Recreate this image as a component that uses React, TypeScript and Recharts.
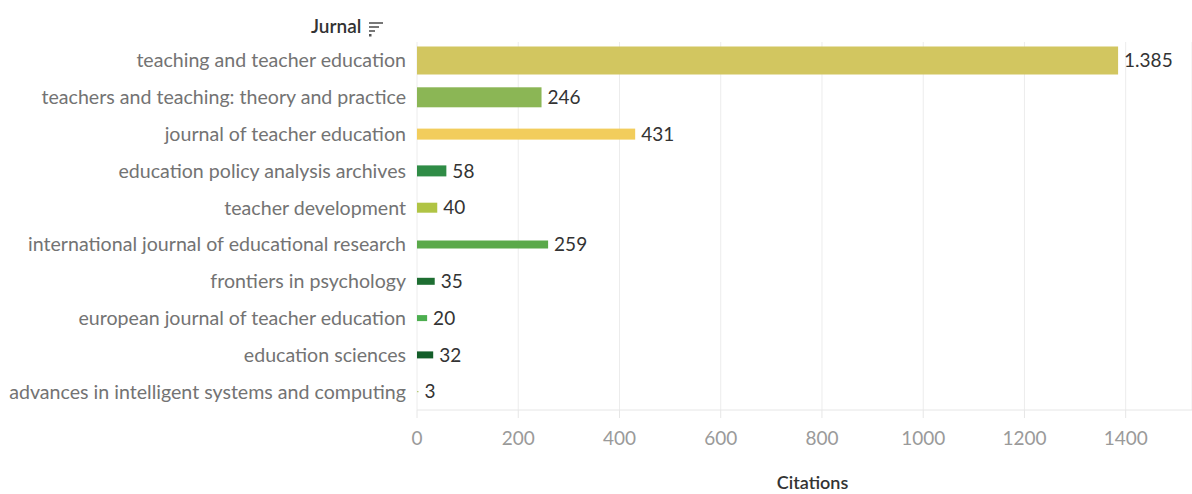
import React from 'react';
import { BarChart, Bar, XAxis, YAxis, CartesianGrid, LabelList, Cell } from 'recharts';

// journals in the order Tableau shows them
const journals = [
  'teaching and teacher education',
  'teachers and teaching: theory and practice',
  'journal of teacher education',
  'education policy analysis archives',
  'teacher development',
  'international journal of educational research',
  'frontiers in psychology',
  'european journal of teacher education',
  'education sciences',
  'advances in intelligent systems and computing',
];

const citations = [1385, 246, 431, 58, 40, 259, 35, 20, 32, 3];

const xTicks = [0, 200, 400, 600, 800, 1000, 1200, 1400];

// colour + thickness per mark (size encoding from the original view)
const barColors = [
  '#d2c660', '#8bb655', '#f2cd5c', '#2f8c46', '#b0c444',
  '#5aa94a', '#1e6e32', '#4cae4f', '#145e2a', '#a9c25a',
];
const barThickness = [28, 20, 11, 11, 10, 8, 7, 6, 7, 1];

const data = journals.map((name, i) => ({ name, citations: citations[i] }));

const FONT = 'Lato, "Open Sans", sans-serif';

// thousands separator is a dot in the source ("1.385")
const formatValue = (v: any) => Number(v).toLocaleString('de-DE');

// draws a bar centred in its band with its own thickness
const SizedBar = (props: any) => {
  const { x, y, width, height, index, fill } = props;
  const t = barThickness[index] ?? 8;
  const cy = y + height / 2;
  if (!width || width <= 0) return null;
  return <rect x={x} y={cy - t / 2} width={width} height={t} fill={fill} />;
};

const SortIcon = () => (
  <svg width="16" height="16" style={{ position: 'absolute', left: 368, top: 21 }}>
    <line x1="1" y1="2" x2="15" y2="2" stroke="#555" strokeWidth="1.6" />
    <line x1="1" y1="6" x2="11" y2="6" stroke="#555" strokeWidth="1.6" />
    <line x1="1" y1="10" x2="7" y2="10" stroke="#555" strokeWidth="1.6" />
    <rect x="1" y="13" width="2.5" height="2.5" fill="#555" />
  </svg>
);

export default function App() {
  return (
    <div style={{ position: 'absolute', left: 0, top: 0, width: 1192, height: 494, background: '#fff', fontFamily: FONT }}>
      <div
        style={{
          position: 'absolute',
          left: 311,
          top: 14,
          fontSize: 19,
          color: '#333',
          fontWeight: 600,
        }}
      >
        Jurnal
      </div>
      <SortIcon />
      <BarChart
        width={1192}
        height={494}
        data={data}
        layout="vertical"
        margin={{ top: 42, right: 0, bottom: 0, left: 0 }}
        barCategoryGap={0}
      >
        <CartesianGrid horizontal={false} stroke="#ececec" />
        <XAxis
          type="number"
          dataKey="citations"
          domain={[0, 1531]}
          ticks={xTicks}
          height={84}
          axisLine={{ stroke: '#e6e6e6' }}
          tickLine={{ stroke: '#e6e6e6' }}
          tickSize={8}
          tickMargin={14}
          tick={{ fill: '#9a9a9a', fontSize: 19, fontFamily: FONT }}
          label={{
            value: 'Citations',
            position: 'insideBottom',
            offset: 5,
            dx: 8,
            fill: '#333',
            fontSize: 18,
            fontWeight: 600,
            fontFamily: FONT,
          }}
        />
        <YAxis
          type="category"
          dataKey="name"
          width={417}
          axisLine={false}
          tickLine={false}
          tickSize={0}
          tickMargin={11}
          interval={0}
          tick={{ fill: '#737373', fontSize: 19.6, fontFamily: FONT }}
        />
        <Bar dataKey="citations" isAnimationActive={false} shape={<SizedBar />}>
          {data.map((d, i) => (
            <Cell key={d.name} fill={barColors[i]} />
          ))}
          <LabelList
            dataKey="citations"
            position="right"
            offset={6}
            formatter={formatValue}
            style={{ fill: '#333', fontSize: 19, fontFamily: FONT }}
          />
        </Bar>
      </BarChart>
    </div>
  );
}
